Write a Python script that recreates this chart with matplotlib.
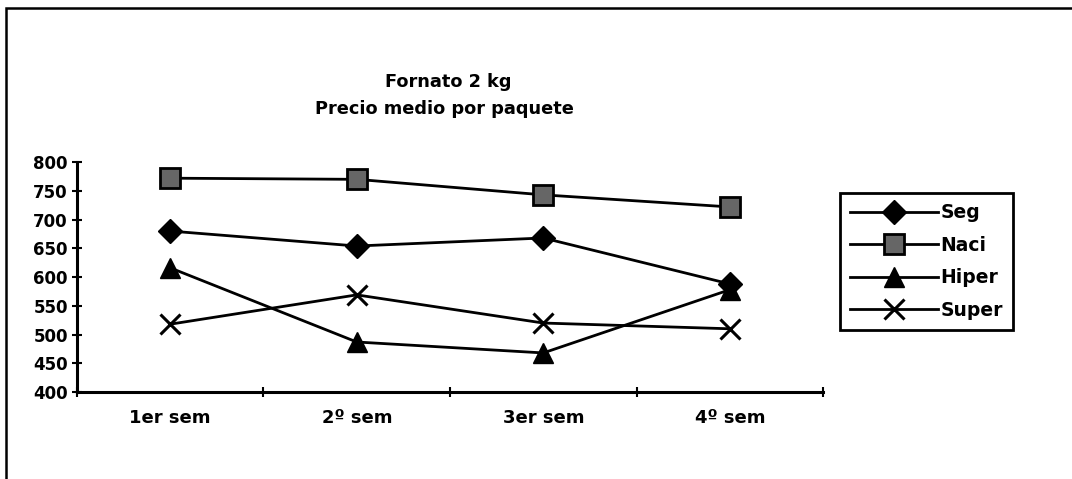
import matplotlib
matplotlib.use("Agg")
import matplotlib.pyplot as plt
from matplotlib.patches import Rectangle

weeks = ["1er sem", "2º sem", "3er sem", "4º sem"]
seg = [680, 654, 668, 588]
naci = [772, 770, 743, 722]
hiper = [616, 487, 468, 578]
super_ = [518, 569, 520, 510]

plt.rcParams["font.family"] = ["DejaVu Sans"]
plt.rcParams["font.weight"] = "bold"

fig = plt.figure(figsize=(10.72, 4.79), dpi=100)
ax = fig.add_axes([0.0718, 0.1816, 0.696, 0.480])

x = [i + 0.5 for i in range(len(weeks))]
kw = dict(color="black", lw=2, markeredgecolor="black", clip_on=False)
ax.plot(x, seg, marker="D", ms=12, markerfacecolor="black", label="Seg", **kw)
ax.plot(x, naci, marker="s", ms=14, markerfacecolor="0.4",
        markeredgewidth=2, label="Naci", **kw)
ax.plot(x, hiper, marker="^", ms=15, markerfacecolor="black", label="Hiper", **kw)
ax.plot(x, super_, marker="x", ms=15, markeredgewidth=2.2, label="Super", **kw)

ax.set_xlim(0, 4)
ax.set_ylim(400, 800)
ax.set_yticks(range(400, 801, 50))
ax.set_xticks(range(0, 5))
ax.set_xticklabels([])
ax.set_xticks(x, minor=True)
ax.set_xticklabels(weeks, minor=True)
ax.tick_params(axis="x", which="minor", length=0, pad=12, labelsize=13)
ax.tick_params(axis="x", which="major", direction="inout", length=7, width=1.5)
ax.tick_params(axis="y", direction="inout", length=7, width=1.5, labelsize=12, pad=3)
for lab in ax.get_yticklabels() + ax.get_xticklabels(minor=True):
    lab.set_fontweight("bold")

for s in ("top", "right"):
    ax.spines[s].set_visible(False)
for s in ("left", "bottom"):
    ax.spines[s].set_linewidth(2.2)

fig.text(0.418, 0.829, "Fornato 2 kg", ha="center", va="center",
         fontsize=12.8, fontweight="bold")
fig.text(0.415, 0.773, "Precio medio por paquete", ha="center", va="center",
         fontsize=12.8, fontweight="bold")

leg = fig.legend(loc="upper left", bbox_to_anchor=(0.7836, 0.597),
                 frameon=True, fancybox=False, edgecolor="black", framealpha=1,
                 handlelength=4.7, handletextpad=0.1, borderpad=0.55,
                 labelspacing=0.72, borderaxespad=0,
                 prop=dict(size=13.5, weight="bold"))
leg.get_frame().set_linewidth(2)

# outer chart border
fig.patches.append(Rectangle((0.006, -0.05), 1.1, 1.033, transform=fig.transFigure,
                             fill=False, edgecolor="black", lw=1.8))

fig.savefig("out.png", dpi=100, facecolor="white")
